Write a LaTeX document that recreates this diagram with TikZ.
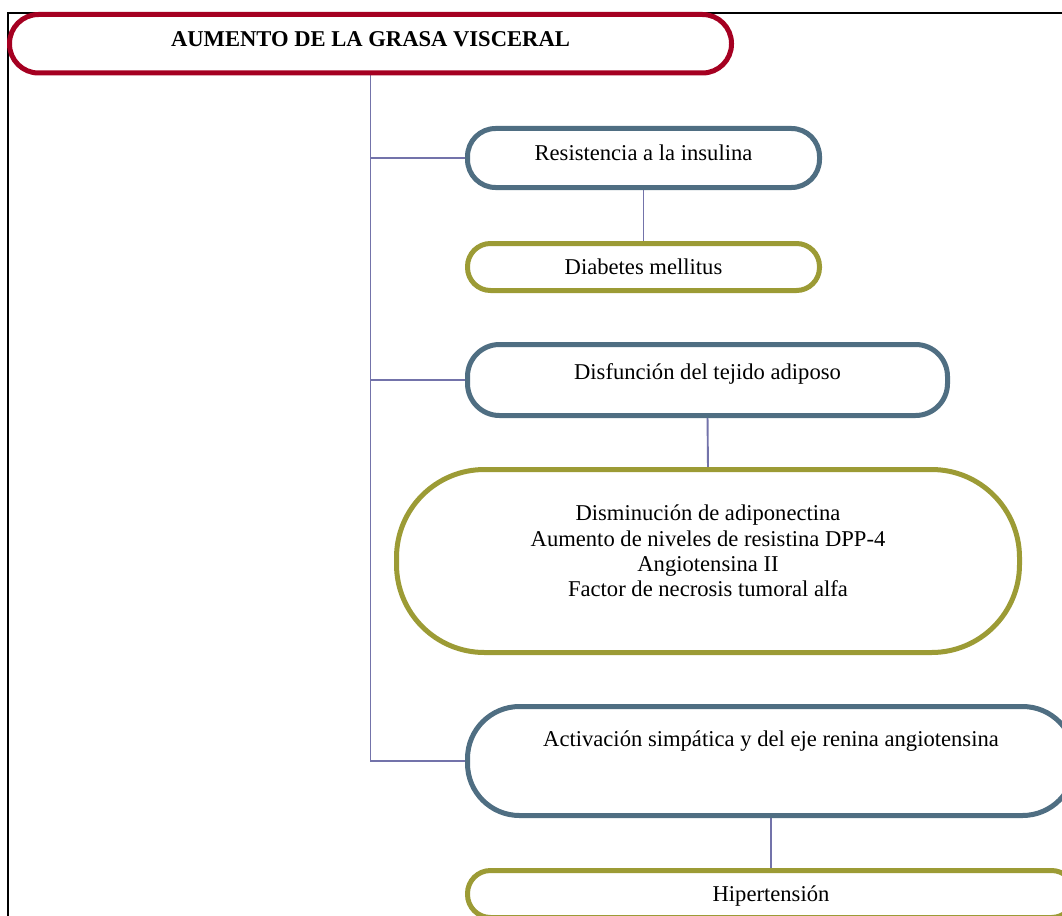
\documentclass[tikz,border=0pt]{standalone}
\usepackage{fontspec}
\setmainfont{Liberation Serif}
\usetikzlibrary{backgrounds}
\definecolor{boxred}{HTML}{A50021}
\definecolor{boxblue}{HTML}{4F6E82}
\definecolor{boxolive}{HTML}{9C9B35}
\definecolor{linkpurple}{HTML}{7373AA}
\begin{document}
\begin{tikzpicture}[x=1pt,y=-1pt,
  box/.style={draw, line width=5pt, fill=white, inner sep=0pt, outer sep=0pt,
    align=center, font=\fontsize{22.6}{25.3}\selectfont, text height=16pt},
  bluebox/.style={box, draw=boxblue},
  olivebox/.style={box, draw=boxolive},
  link/.style={draw=linkpurple, line width=1.9pt}]
\useasboundingbox (0,0) rectangle (1062,915);
\clip (0,0) rectangle (1062,915);
\draw[line width=1.2pt] (8,13) rectangle (1080,930);

\node[box, draw=boxred, minimum width=722pt, minimum height=58.5pt,
  rounded corners=29pt, text depth=9.5pt,
  font=\fontsize{22.6}{25.3}\selectfont\bfseries] (title) at (370.5,43.75)
  {AUMENTO DE LA GRASA VISCERAL};

\node[bluebox, minimum width=352pt, minimum height=59pt, rounded corners=28pt,
  text depth=10.6pt] (res) at (643.5,158) {Resistencia a la insulina};

\node[olivebox, minimum width=352pt, minimum height=47pt, rounded corners=23pt,
  text depth=2pt] (dia) at (643.5,267) {Diabetes mellitus};

\node[bluebox, minimum width=480pt, minimum height=71pt, rounded corners=32pt,
  text depth=17.4pt] (dis) at (707.5,380) {Disfunción del tejido adiposo};

\node[olivebox, minimum width=623pt, minimum height=183pt, rounded corners=88pt,
  text height=92pt, text depth=20.6pt] (adi) at (708,561)
  {Disminución de adiponectina\\Aumento de niveles de resistina DPP-4\\Angiotensina II\\Factor de necrosis tumoral alfa};

\node[bluebox, minimum width=607pt, minimum height=109pt, rounded corners=52pt,
  text depth=44.6pt] (act) at (771,761)
  {Activación simpática y del eje renina angiotensina};

\node[olivebox, minimum width=607pt, minimum height=47pt, rounded corners=23pt,
  text depth=0.6pt] (hip) at (771,894) {Hipertensión};

\begin{pgfonlayer}{background}
\draw[link] (title.south) -- (title.south |- act.west) -- (act.west);
\draw[link] (title.south |- res.west) -- (res.west);
\draw[link] (title.south |- dis.west) -- (dis.west);
\draw[link] (res.south) -- (dia.north);
\draw[link] (dis.south) -- (adi.north);
\draw[link] (act.south) -- (hip.north);
\end{pgfonlayer}
\end{tikzpicture}
\end{document}
